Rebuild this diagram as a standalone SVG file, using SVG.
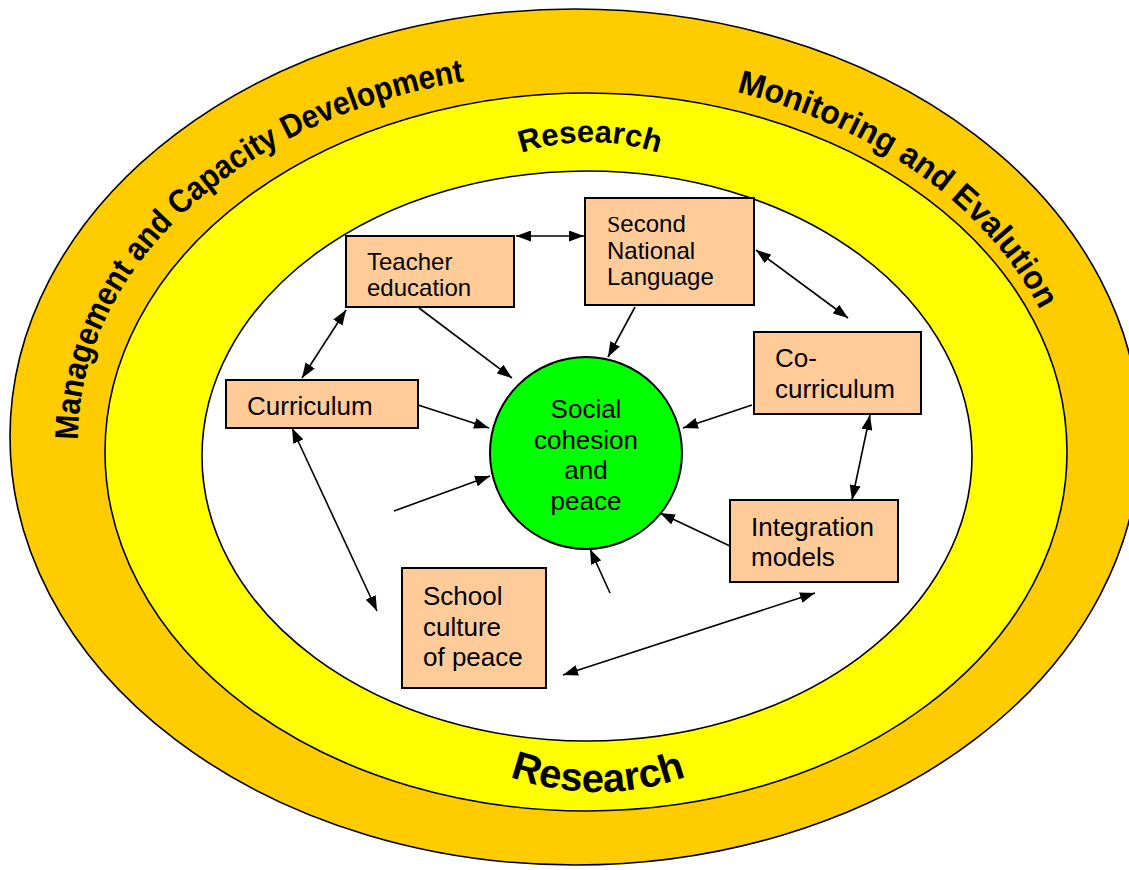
<svg xmlns="http://www.w3.org/2000/svg" width="1129" height="870" viewBox="0 0 1129 870">
<style>
.ring{stroke:#000;stroke-width:1.6}
.box{fill:#FFCC99;stroke:#000;stroke-width:2}
.t{font-family:"Liberation Sans",Arial,sans-serif;font-size:26px;fill:#000}
.t24{font-size:24px}
.arc{font-family:"Liberation Sans",Arial,sans-serif;font-weight:bold;fill:#000}
.c{fill:none;stroke:#000;stroke-width:1.6}
</style>
<defs>
<marker id="ah" viewBox="0 0 15 11" refX="15" refY="5.5" markerWidth="15" markerHeight="11" markerUnits="userSpaceOnUse" orient="auto-start-reverse"><path d="M0,0 L15,5.5 L0,11 z" fill="#000"/></marker>
<path id="outerArc" d="M 78 440 A 497 368 0 0 1 1072 440"/>
<path id="topArc" d="M 370 362 A 220 220 0 0 1 810 362"/>
<path id="botArc" d="M 338 532 A 260 260 0 0 0 858 532"/>
</defs>
<g id="rings">
<ellipse class="ring" cx="575" cy="437" rx="565" ry="428" fill="#FFCC00"/>
<ellipse class="ring" cx="586" cy="452" rx="481" ry="359" fill="#FFFF00"/>
<ellipse class="ring" cx="587" cy="456" rx="385" ry="285" fill="#FFFFFF"/>
</g>
<g id="ring-labels">
<text class="arc" font-size="33"><textPath href="#outerArc" startOffset="0" textLength="572" lengthAdjust="spacingAndGlyphs">Management and Capacity Development</textPath></text>
<text class="arc" font-size="33"><textPath href="#outerArc" startOffset="846" textLength="385" lengthAdjust="spacingAndGlyphs">Monitoring and Evalution</textPath></text>
<text class="arc" font-size="31" text-anchor="middle"><textPath href="#topArc" startOffset="50%">Research</textPath></text>
<text class="arc" font-size="40" text-anchor="middle"><textPath href="#botArc" startOffset="50%">Research</textPath></text>
</g>
<g id="connectors">
<line class="c" x1="516" y1="236" x2="584" y2="236" marker-start="url(#ah)" marker-end="url(#ah)"/>
<line class="c" x1="756" y1="250" x2="848" y2="318" marker-start="url(#ah)" marker-end="url(#ah)"/>
<line class="c" x1="870" y1="415" x2="852" y2="500" marker-start="url(#ah)" marker-end="url(#ah)"/>
<line class="c" x1="815" y1="593" x2="563" y2="675" marker-start="url(#ah)" marker-end="url(#ah)"/>
<line class="c" x1="292" y1="428" x2="377" y2="611" marker-start="url(#ah)" marker-end="url(#ah)"/>
<line class="c" x1="302" y1="378" x2="346" y2="310" marker-start="url(#ah)" marker-end="url(#ah)"/>
<line class="c" x1="419" y1="308" x2="512" y2="378" marker-end="url(#ah)"/>
<line class="c" x1="635" y1="307" x2="608" y2="357" marker-end="url(#ah)"/>
<line class="c" x1="752" y1="405" x2="683" y2="428" marker-end="url(#ah)"/>
<line class="c" x1="418" y1="405" x2="489" y2="428" marker-end="url(#ah)"/>
<line class="c" x1="394" y1="511" x2="490" y2="476" marker-end="url(#ah)"/>
<line class="c" x1="610" y1="593" x2="590" y2="549" marker-end="url(#ah)"/>
<line class="c" x1="730" y1="546" x2="660" y2="513" marker-end="url(#ah)"/>
</g>
<g id="node-teacher">
<rect class="box" x="346" y="236" width="168" height="71"/>
<text class="t t24" x="367" y="270">Teacher</text>
<text class="t t24" x="367" y="296">education</text>
</g>
<g id="node-second">
<rect class="box" x="585" y="198" width="169" height="107"/>
<text class="t t24" x="607" y="232"><tspan font-family="Liberation Serif,serif">S</tspan>econd</text>
<text class="t t24" x="607" y="259">National</text>
<text class="t t24" x="607" y="285">Language</text>
</g>
<g id="node-curriculum">
<rect class="box" x="226" y="380" width="192" height="48"/>
<text class="t" x="247" y="415">Curriculum</text>
</g>
<g id="node-cocurriculum">
<rect class="box" x="754" y="332" width="167" height="82"/>
<text class="t" x="775" y="367">Co-</text>
<text class="t" x="775" y="398">curriculum</text>
</g>
<g id="node-integration">
<rect class="box" x="730" y="500" width="168" height="82"/>
<text class="t" x="751" y="536">Integration</text>
<text class="t" x="751" y="566">models</text>
</g>
<g id="node-school">
<rect class="box" x="402" y="568" width="144" height="120"/>
<text class="t" x="423" y="605">School</text>
<text class="t" x="423" y="636">culture</text>
<text class="t" x="423" y="666">of peace</text>
</g>
<g id="node-center">
<circle cx="586" cy="453" r="96" fill="#00FF00" stroke="#000" stroke-width="2"/>
<text class="t" x="586" y="418" text-anchor="middle">Social</text>
<text class="t" x="586" y="448.5" text-anchor="middle">cohesion</text>
<text class="t" x="586" y="479" text-anchor="middle">and</text>
<text class="t" x="586" y="509.5" text-anchor="middle">peace</text>
</g>
</svg>
